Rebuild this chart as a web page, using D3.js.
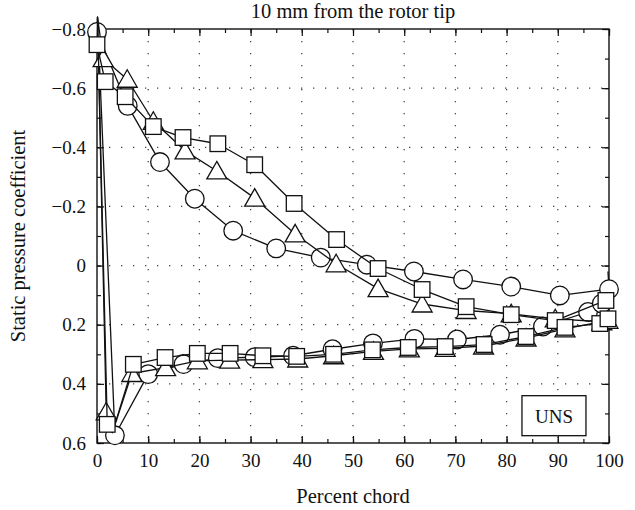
<!DOCTYPE html>
<html>
<head>
<meta charset="utf-8">
<script src="https://cdn.jsdelivr.net/npm/d3@7"></script>
<style>
  html, body { margin: 0; padding: 0; background: #fff; }
  svg { display: block; }
  text { font-family: "Liberation Serif", "DejaVu Serif", serif; fill: #111; }
</style>
</head>
<body>
<svg id="chart" width="635" height="510"></svg>
<script>
// Axis ticks
const xTicks = [0, 10, 20, 30, 40, 50, 60, 70, 80, 90, 100];
const xMinorTicks = d3.range(0, 101, 5);
const yTicks = [-0.8, -0.6, -0.4, -0.2, 0, 0.2, 0.4, 0.6];
const yTickLabels = ["\u22120.8", "\u22120.6", "\u22120.4", "\u22120.2", "0", "0.2", "0.4", "0.6"];
const yMinorTicks = d3.range(-8, 7, 1).map(d => d / 10);

const titleText = "10 mm from the rotor tip";
const xTitle = "Percent chord";
const yTitle = "Static pressure coefficient";
const legendLabel = "UNS";

// Each path runs: trailing edge -> suction side -> leading edge -> pressure side -> trailing edge.
// Vertices listed in the *Bare arrays are joined by the line but carry no symbol.
const circlePath = [
  [99.8, 0.02], [100, 0.08], [90.4, 0.101], [80.9, 0.071], [71.5, 0.047], [61.9, 0.02],
  [52.7, -0.003], [43.7, -0.027], [35, -0.058], [26.6, -0.118], [19.1, -0.226],
  [12.3, -0.35], [6, -0.54], [0, -0.79], [0.1, -0.84],
  [3.5, 0.574], [10, 0.367], [16.9, 0.333], [23.6, 0.313], [30.8, 0.31], [38.3, 0.305],
  [46, 0.283], [53.9, 0.263], [62, 0.248], [70.3, 0.25], [78.7, 0.234], [87.1, 0.206],
  [95.9, 0.157], [98.6, 0.128], [100, 0.08]
];
const circleBare = [0, 14, 29];

const trianglePath = [
  [100, 0.17], [98.6, 0.19], [89.5, 0.18], [80.9, 0.163], [72.1, 0.152], [63.5, 0.13],
  [54.9, 0.078], [46.7, -0.006], [38.7, -0.107], [30.8, -0.228], [23.4, -0.32],
  [17.2, -0.388], [11, -0.488], [5.9, -0.63], [1.2, -0.70], [0.1, -0.84],
  [1.8, 0.495], [3, 0.565], [6.8, 0.365], [13.4, 0.345], [19.6, 0.322], [25.9, 0.32],
  [32.4, 0.318], [39.2, 0.316], [46.2, 0.305], [54, 0.29], [61, 0.282], [68, 0.28],
  [75.5, 0.272], [83.8, 0.245], [91.4, 0.214], [99.8, 0.185]
];
const triangleBare = [0, 15, 17];

const squarePath = [
  [99.4, 0.118], [89.5, 0.186], [80.9, 0.166], [72.1, 0.139], [63.5, 0.081], [54.9, 0.01],
  [46.8, -0.088], [38.5, -0.21], [30.8, -0.341], [23.6, -0.412], [16.8, -0.433],
  [11, -0.47], [5.5, -0.571], [1.6, -0.622], [0, -0.747], [0.1, -0.84],
  [2, 0.537], [3, 0.565], [7.1, 0.334], [13.3, 0.311], [19.6, 0.297], [26, 0.297],
  [32.4, 0.305], [39, 0.307], [46.2, 0.3], [53.8, 0.285], [60.8, 0.277], [68, 0.274],
  [75.6, 0.267], [83.8, 0.24], [91.4, 0.209], [98.2, 0.196], [99.8, 0.18]
];
const squareBare = [15, 17];

const series = [
  { name: "circle", path: circlePath, bare: circleBare },
  { name: "triangle", path: trianglePath, bare: triangleBare },
  { name: "square", path: squarePath, bare: squareBare }
];

// Layout
const margin = { left: 97, top: 29, right: 26, bottom: 67 };
const W = 635, H = 510;
const iw = W - margin.left - margin.right;
const ih = H - margin.top - margin.bottom;

const svg = d3.select("#chart");
const g = svg.append("g").attr("transform", `translate(${margin.left},${margin.top})`);

const x = d3.scaleLinear().domain([0, 100]).range([0, iw]);
const y = d3.scaleLinear().domain([-0.8, 0.6]).range([0, ih]);

// Dotted grid at major ticks
const grid = g.append("g").attr("class", "grid")
  .attr("stroke", "#444").attr("stroke-width", 1.3).attr("stroke-dasharray", "1.3,10.7");
grid.selectAll("line.v").data(xTicks.slice(1, -1)).join("line")
  .attr("x1", d => x(d)).attr("x2", d => x(d)).attr("y1", 0).attr("y2", ih);
grid.selectAll("line.h").data(yTicks.slice(1, -1)).join("line")
  .attr("x1", 0).attr("x2", iw).attr("y1", d => y(d)).attr("y2", d => y(d));

// Axes with inward ticks on all four sides
function styleAxis(sel) {
  sel.select(".domain").remove();
  sel.selectAll(".tick line").attr("stroke", "#111").attr("stroke-width", 1.2);
  sel.selectAll(".tick text").attr("font-size", 19).attr("fill", "#111")
    .style("font-family", '"Liberation Serif", "DejaVu Serif", serif');
}

const gx = g.append("g").attr("transform", `translate(0,${ih})`)
  .call(d3.axisBottom(x).tickValues(xTicks).tickFormat(d3.format("d"))
    .tickSizeInner(-7).tickSizeOuter(0).tickPadding(11));
styleAxis(gx);
const gxm = g.append("g").attr("transform", `translate(0,${ih})`)
  .call(d3.axisBottom(x).tickValues(xMinorTicks).tickFormat("").tickSizeInner(-4).tickSizeOuter(0));
styleAxis(gxm);
const gxt = g.append("g")
  .call(d3.axisTop(x).tickValues(xTicks).tickFormat("").tickSizeInner(-7).tickSizeOuter(0));
styleAxis(gxt);
const gxtm = g.append("g")
  .call(d3.axisTop(x).tickValues(xMinorTicks).tickFormat("").tickSizeInner(-4).tickSizeOuter(0));
styleAxis(gxtm);

const gy = g.append("g")
  .call(d3.axisLeft(y).tickValues(yTicks).tickFormat((d, i) => yTickLabels[i])
    .tickSizeInner(-7).tickSizeOuter(0).tickPadding(11));
styleAxis(gy);
const gym = g.append("g")
  .call(d3.axisLeft(y).tickValues(yMinorTicks).tickFormat("").tickSizeInner(-4).tickSizeOuter(0));
styleAxis(gym);
const gyr = g.append("g").attr("transform", `translate(${iw},0)`)
  .call(d3.axisRight(y).tickValues(yTicks).tickFormat("").tickSizeInner(-7).tickSizeOuter(0));
styleAxis(gyr);
const gyrm = g.append("g").attr("transform", `translate(${iw},0)`)
  .call(d3.axisRight(y).tickValues(yMinorTicks).tickFormat("").tickSizeInner(-4).tickSizeOuter(0));
styleAxis(gyrm);

// Plot frame
g.append("rect").attr("x", 0).attr("y", 0).attr("width", iw).attr("height", ih)
  .attr("fill", "none").attr("stroke", "#111").attr("stroke-width", 1.4);

// Series: line then symbols, one series at a time
const line = d3.line().x(d => x(d[0])).y(d => y(d[1]));
const triPath = "M0,-9.5L10,8L-10,8Z";

series.forEach(s => {
  const sg = g.append("g").attr("class", "series-" + s.name);
  sg.append("path").datum(s.path).attr("d", line)
    .attr("fill", "none").attr("stroke", "#111").attr("stroke-width", 1.3)
    .attr("stroke-linejoin", "round");
  const marks = s.path.filter((d, i) => !s.bare.includes(i));
  const m = sg.selectAll("g.mark").data(marks).join("g")
    .attr("class", "mark")
    .attr("transform", d => `translate(${x(d[0])},${y(d[1])})`);
  if (s.name === "circle") {
    m.append("circle").attr("r", 9.3);
  } else if (s.name === "triangle") {
    m.append("path").attr("d", triPath);
  } else {
    m.append("rect").attr("x", -7.8).attr("y", -7.8).attr("width", 15.6).attr("height", 15.6);
  }
  m.selectAll("*").attr("fill", "#fff").attr("stroke", "#111").attr("stroke-width", 1.3);
});

// Legend box
const lg = g.append("g").attr("transform", `translate(${x(83)},${y(0.44)})`);
lg.append("rect").attr("x", 0).attr("y", 0).attr("width", 64).attr("height", 40)
  .attr("fill", "#fff").attr("stroke", "#111").attr("stroke-width", 1.3);
lg.append("text").attr("x", 32).attr("y", 27).attr("text-anchor", "middle")
  .attr("font-size", 19).text(legendLabel);

// Titles
svg.append("text").attr("x", margin.left + iw / 2).attr("y", 18)
  .attr("text-anchor", "middle").attr("font-size", 20.5).text(titleText);
svg.append("text").attr("x", margin.left + iw / 2).attr("y", 503)
  .attr("text-anchor", "middle").attr("font-size", 20.5).text(xTitle);
svg.append("text")
  .attr("transform", `translate(25,${margin.top + ih / 2}) rotate(-90)`)
  .attr("text-anchor", "middle").attr("font-size", 20.5).text(yTitle);
</script>
</body>
</html>
